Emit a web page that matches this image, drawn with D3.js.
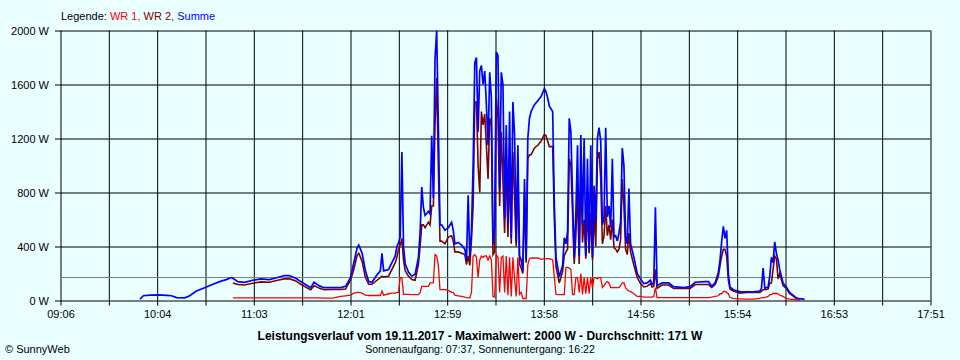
<!DOCTYPE html>
<html><head><meta charset="utf-8">
<script src="https://cdn.jsdelivr.net/npm/d3@7"></script>
<style>
html,body{margin:0;padding:0;background:#eaffff;}
svg{display:block;}
text{font-family:"Liberation Sans",Arial,sans-serif;}
</style></head><body>
<svg id="c" width="960" height="360"></svg>
<script>
const xLabels = ["09:06","10:04","11:03","12:01","12:59","13:58","14:56","15:54","16:53","17:51"];
const yTicks = [0,400,800,1200,1600,2000];
const average = 171;
const legendNames = ["WR 1","WR 2","Summe"];
const titleText = "Leistungsverlauf vom 19.11.2017 - Maximalwert: 2000 W - Durchschnitt: 171 W";
const subText = "Sonnenaufgang: 07:37, Sonnenuntergang: 16:22";
const copyText = "\u00A9 SunnyWeb";

// Summe (blue)
const summe = [
["09:54",10],["09:56",35],["10:00",40],["10:05",42],["10:10",38],["10:13",35],["10:16",22],["10:21",20],["10:24",35],["10:28",70],
["10:33",95],["10:38",120],["10:42",140],["10:46",155],["10:49",170],
["10:50",165],["10:53",140],["10:57",135],["11:02",150],["11:07",160],["11:12",155],["11:17",170],["11:21",185],["11:24",185],["11:28",165],
["11:31",140],["11:35",110],["11:37",95],["11:39",135],["11:42",110],["11:45",95],["11:50",95],["11:55",95],["11:58",105],
["12:01",170],["12:03",280],["12:05",390],["12:06",410],["12:08",350],["12:10",220],["12:12",140],["12:14",135],["12:17",190],["12:19",220],
["12:20",350],["12:21",220],["12:24",230],["12:26",280],["12:28",330],["12:29",400],["12:30",430],["12:31",470],["12:32",1100],["12:33",400],
["12:34",270],["12:36",210],["12:38",180],["12:40",195],["12:42",320],["12:43",500],["12:44",840],["12:45",690],["12:46",630],["12:48",660],
["12:49",640],["12:50",1220],["12:51",760],["12:52",1790],["12:53",2000],["12:54",1300],["12:55",560],["12:56",560],["12:58",520],["13:00",540],
["13:02",580],["13:03",520],["13:04",420],["13:06",430],["13:08",410],["13:10",380],["13:11",300],["13:12",780],["13:13",320],["13:14",510],
["13:15",1000],["13:16",1760],["13:17",1800],["13:18",1250],["13:19",1700],["13:20",1740],["13:21",1600],["13:22",1700],["13:23",1450],["13:24",1150],
["13:25",1690],["13:26",1500],["13:27",415],["13:28",540],["13:29",1840],["13:30",1815],["13:31",830],["13:32",1690],["13:33",1600],["13:34",610],
["13:35",1300],["13:36",560],["13:37",1400],["13:38",465],["13:39",1470],["13:40",1230],["13:41",430],["13:42",1150],["13:43",330],["13:44",300],
["13:45",215],["13:46",900],["13:47",300],["13:48",1200],["13:49",1350],["13:50",1400],["13:52",1450],["13:54",1480],["13:56",1510],["13:58",1570],
["13:59",1545],["14:00",1500],["14:01",1440],["14:03",1400],["14:04",710],["14:05",320],["14:07",175],["14:09",260],["14:10",465],["14:11",420],
["14:12",510],["14:13",1350],["14:14",1250],["14:15",760],["14:16",320],["14:17",650],["14:18",1150],["14:19",330],["14:20",1225],["14:21",560],
["14:22",1200],["14:23",330],["14:24",1050],["14:25",370],["14:26",1150],["14:27",320],["14:28",850],["14:29",580],["14:30",1200],["14:31",1280],
["14:32",1180],["14:33",560],["14:34",620],["14:35",1280],["14:36",620],["14:37",700],["14:38",540],["14:39",1050],["14:40",470],["14:41",480],
["14:42",440],["14:43",500],["14:44",580],["14:45",1130],["14:46",1000],["14:47",470],["14:48",420],["14:49",830],["14:50",420],["14:52",320],
["14:54",200],["14:56",160],["14:58",125],["15:00",130],["15:02",150],["15:03",120],["15:04",130],["15:05",690],["15:06",110],["15:09",130],
["15:13",130],["15:16",103],["15:22",96],["15:26",103],["15:29",135],["15:35",140],["15:37",140],["15:39",105],["15:41",130],["15:43",210],
["15:44",300],["15:45",440],["15:46",550],["15:47",460],["15:48",520],["15:49",200],["15:50",100],["15:52",80],["15:56",66],["16:00",65],
["16:04",65],["16:08",70],["16:09",90],["16:10",240],["16:11",90],["16:13",100],["16:14",180],["16:15",320],["16:16",280],["16:17",435],
["16:18",350],["16:19",300],["16:20",230],["16:22",130],["16:24",100],["16:26",60],["16:28",40],["16:30",20],["16:32",12],["16:34",12],["16:35",5]
];

// WR 2 (dark red)
const wr2 = [
["10:50",130],["10:53",118],["10:57",115],["11:02",128],["11:07",138],["11:12",135],["11:17",150],["11:21",160],["11:24",162],["11:28",145],
["11:31",120],["11:35",92],["11:37",80],["11:39",110],["11:42",92],["11:45",80],["11:50",82],["11:55",82],["11:58",85],
["12:01",150],["12:03",230],["12:05",335],["12:06",350],["12:08",290],["12:10",170],["12:12",120],["12:14",120],["12:17",150],["12:19",170],
["12:20",180],["12:21",175],["12:24",180],["12:26",230],["12:28",280],["12:29",320],["12:30",380],["12:31",410],["12:32",460],["12:33",300],
["12:34",220],["12:36",180],["12:38",155],["12:40",150],["12:42",270],["12:43",400],["12:44",560],["12:45",560],["12:46",540],["12:48",580],
["12:49",560],["12:50",700],["12:51",700],["12:52",1300],["12:53",1650],["12:54",1000],["12:55",440],["12:56",440],["12:58",420],["13:00",470],
["13:02",480],["13:03",440],["13:04",360],["13:06",360],["13:08",350],["13:10",340],["13:11",265],["13:12",330],["13:13",260],["13:14",450],
["13:15",700],["13:16",1470],["13:17",1470],["13:18",1000],["13:19",800],["13:20",1400],["13:21",1300],["13:22",1380],["13:23",1150],["13:24",900],
["13:25",1350],["13:26",1300],["13:27",340],["13:28",360],["13:29",1500],["13:30",1350],["13:31",700],["13:32",1250],["13:33",880],["13:34",500],
["13:35",1050],["13:36",470],["13:37",980],["13:38",420],["13:39",1100],["13:40",760],["13:41",400],["13:42",930],["13:43",270],["13:44",240],
["13:45",200],["13:46",800],["13:47",280],["13:48",1050],["13:49",1080],["13:50",1080],["13:52",1130],["13:54",1150],["13:56",1180],["13:58",1230],
["13:59",1220],["14:00",1180],["14:01",1140],["14:03",1140],["14:04",600],["14:05",250],["14:07",130],["14:09",215],["14:10",330],["14:11",360],
["14:12",380],["14:13",1050],["14:14",1000],["14:15",650],["14:16",270],["14:17",480],["14:18",830],["14:19",270],["14:20",980],["14:21",430],
["14:22",600],["14:23",310],["14:24",700],["14:25",350],["14:26",650],["14:27",300],["14:28",650],["14:29",400],["14:30",1050],["14:31",1100],
["14:32",900],["14:33",420],["14:34",480],["14:35",700],["14:36",480],["14:37",560],["14:38",450],["14:39",600],["14:40",390],["14:41",380],
["14:42",360],["14:43",380],["14:44",450],["14:45",900],["14:46",700],["14:47",380],["14:48",340],["14:49",500],["14:50",360],["14:52",260],
["14:54",170],["14:56",125],["14:58",100],["15:00",105],["15:02",125],["15:03",100],["15:04",105],["15:05",230],["15:06",90],["15:09",115],
["15:13",115],["15:16",89],["15:22",89],["15:26",90],["15:29",118],["15:35",118],["15:37",118],["15:39",96],["15:41",118],["15:43",180],
["15:44",260],["15:45",330],["15:46",380],["15:47",380],["15:48",330],["15:49",150],["15:50",85],["15:52",70],["15:56",55],["16:00",60],
["16:04",60],["16:08",60],["16:09",70],["16:10",80],["16:11",80],["16:13",85],["16:14",130],["16:15",130],["16:16",230],["16:17",330],
["16:18",310],["16:19",160],["16:20",200],["16:22",110],["16:24",90],["16:26",50],["16:28",35],["16:30",15],["16:32",8]
];

// WR 1 (red)
const wr1 = [
["10:50",20],["10:53",20],["10:57",20],["11:02",20],["11:07",20],["11:12",20],["11:17",20],["11:21",20],["11:24",20],["11:28",20],
["11:31",20],["11:35",20],["11:37",20],["11:39",20],["11:42",20],["11:45",18],["11:50",18],["11:55",30],["11:58",35],
["12:01",40],["12:03",55],["12:05",60],["12:06",60],["12:08",55],["12:10",40],["12:12",37],["12:14",37],["12:17",37],["12:19",37],
["12:20",70],["12:21",40],["12:24",50],["12:26",55],["12:28",55],["12:29",60],["12:30",60],["12:31",170],["12:32",170],["12:33",45],
["12:34",45],["12:36",45],["12:38",44],["12:40",44],["12:42",44],["12:43",60],["12:44",105],["12:45",105],["12:46",105],["12:48",105],
["12:49",130],["12:50",130],["12:51",130],["12:52",340],["12:53",330],["12:54",260],["12:55",80],["12:56",80],["12:58",80],["13:00",75],
["13:02",60],["13:03",60],["13:04",40],["13:06",35],["13:08",30],["13:10",25],["13:11",22],["13:12",20],["13:13",20],["13:14",60],
["13:15",330],["13:16",340],["13:17",320],["13:18",170],["13:19",300],["13:20",330],["13:21",320],["13:22",330],["13:23",330],["13:24",300],
["13:25",330],["13:26",300],["13:27",30],["13:28",25],["13:29",340],["13:30",320],["13:31",60],["13:32",320],["13:33",330],["13:34",60],
["13:35",330],["13:36",40],["13:37",320],["13:38",30],["13:39",320],["13:40",160],["13:41",30],["13:42",320],["13:43",45],["13:44",60],
["13:45",15],["13:46",15],["13:47",15],["13:48",265],["13:49",310],["13:50",315],["13:52",315],["13:54",315],["13:56",305],["13:58",310],
["13:59",310],["14:00",310],["14:01",310],["14:03",300],["14:04",170],["14:05",45],["14:07",44],["14:09",44],["14:10",44],["14:11",245],
["14:12",245],["14:13",240],["14:14",230],["14:15",44],["14:16",44],["14:17",170],["14:18",170],["14:19",60],["14:20",200],["14:21",44],
["14:22",170],["14:23",50],["14:24",170],["14:25",50],["14:26",170],["14:27",96],["14:28",170],["14:29",170],["14:30",160],["14:31",170],
["14:32",170],["14:33",96],["14:34",110],["14:35",130],["14:36",140],["14:37",130],["14:38",96],["14:39",96],["14:40",96],["14:41",96],
["14:42",96],["14:43",96],["14:44",110],["14:45",130],["14:46",130],["14:47",96],["14:48",80],["14:49",70],["14:50",67],["14:52",50],
["14:54",30],["14:56",30],["14:58",25],["15:00",25],["15:02",25],["15:03",25],["15:04",30],["15:05",96],["15:06",22],["15:09",22],
["15:13",22],["15:16",22],["15:22",22],["15:26",22],["15:29",22],["15:35",22],["15:37",22],["15:39",25],["15:41",30],["15:43",35],
["15:44",50],["15:45",50],["15:46",67],["15:47",67],["15:48",60],["15:49",50],["15:50",22],["15:52",15],["15:56",12],["16:00",10],
["16:04",10],["16:08",15],["16:09",22],["16:10",22],["16:11",22],["16:13",30],["16:14",44],["16:15",44],["16:16",52],["16:17",52],
["16:18",52],["16:19",50],["16:20",40],["16:22",30],["16:24",15],["16:26",10],["16:28",8],["16:30",5],["16:32",2]
];

const toMin = t => (+t.slice(0,2))*60 + (+t.slice(3,5));
const COL = {"WR 1":"#ff0000","WR 2":"#800000","Summe":"#0000ff"};
const WID = {"WR 1":1.3,"WR 2":1.6,"Summe":1.7};

const svg = d3.select("#c");
svg.append("rect").attr("width",960).attr("height",360).attr("fill","#eaffff");

const t0 = toMin(xLabels[0]), t1 = toMin(xLabels[xLabels.length-1]);
const x = d3.scaleLinear().domain([t0,t1]).range([60.5,930.5]);
const y = d3.scaleLinear().domain([0,2000]).range([300.5,30.5]);

const nGrid = (xLabels.length-1)*2;
const gridVals = d3.range(nGrid+1).map(i => t0 + i*(t1-t0)/nGrid);

// vertical grid + bottom ticks + labels
const gx = svg.append("g").attr("transform","translate(0,30.5)")
  .call(d3.axisBottom(x).tickValues(gridVals).tickSize(275).tickPadding(5)
    .tickFormat((d,i)=> i%2===0 ? xLabels[i/2] : ""));
gx.select(".domain").remove();
gx.selectAll("line").attr("stroke","#000");
gx.selectAll("text").attr("font-size","11px").attr("fill","#000").attr("font-family","Liberation Sans, Arial, sans-serif");

// horizontal grid + left ticks + labels
const gy = svg.append("g").attr("transform","translate(930.5,0)")
  .call(d3.axisLeft(y).tickValues(yTicks).tickSize(875.5).tickPadding(6)
    .tickFormat(d => d + " W"));
gy.select(".domain").remove();
gy.selectAll("line").attr("stroke","#000");
gy.selectAll("text").attr("font-size","11px").attr("fill","#000").attr("font-family","Liberation Sans, Arial, sans-serif");

// average line
svg.append("line").attr("x1",x(t0)).attr("x2",x(t1))
  .attr("y1",Math.round(y(average))+0.5).attr("y2",Math.round(y(average))+0.5)
  .attr("stroke","#808080").attr("stroke-width",1);

const line = d3.line().x(d=>x(toMin(d[0]))).y(d=>y(d[1]));
const series = [["WR 2",wr2],["Summe",summe],["WR 1",wr1]];
svg.append("g").selectAll("path").data(series).join("path")
  .attr("d",d=>line(d[1])).attr("fill","none")
  .attr("stroke",d=>COL[d[0]]).attr("stroke-width",d=>WID[d[0]])
  .attr("stroke-linejoin","miter");

// legend
const lg = svg.append("text").attr("x",61).attr("y",20).attr("font-size","11px");
lg.append("tspan").attr("fill","#000").text("Legende: ");
legendNames.forEach((n,i)=>{
  lg.append("tspan").attr("fill",COL[n]).text(n + (i<legendNames.length-1 ? ", " : ""));
});

// bottom texts
svg.append("text").attr("x",480).attr("y",340).attr("text-anchor","middle")
  .attr("font-size","12px").attr("font-weight","bold").attr("fill","#000").text(titleText);
svg.append("text").attr("x",480).attr("y",353).attr("text-anchor","middle")
  .attr("font-size","10.6px").attr("fill","#000").text(subText);
svg.append("text").attr("x",5).attr("y",353)
  .attr("font-size","11px").attr("fill","#000").text(copyText);
</script>
</body></html>
